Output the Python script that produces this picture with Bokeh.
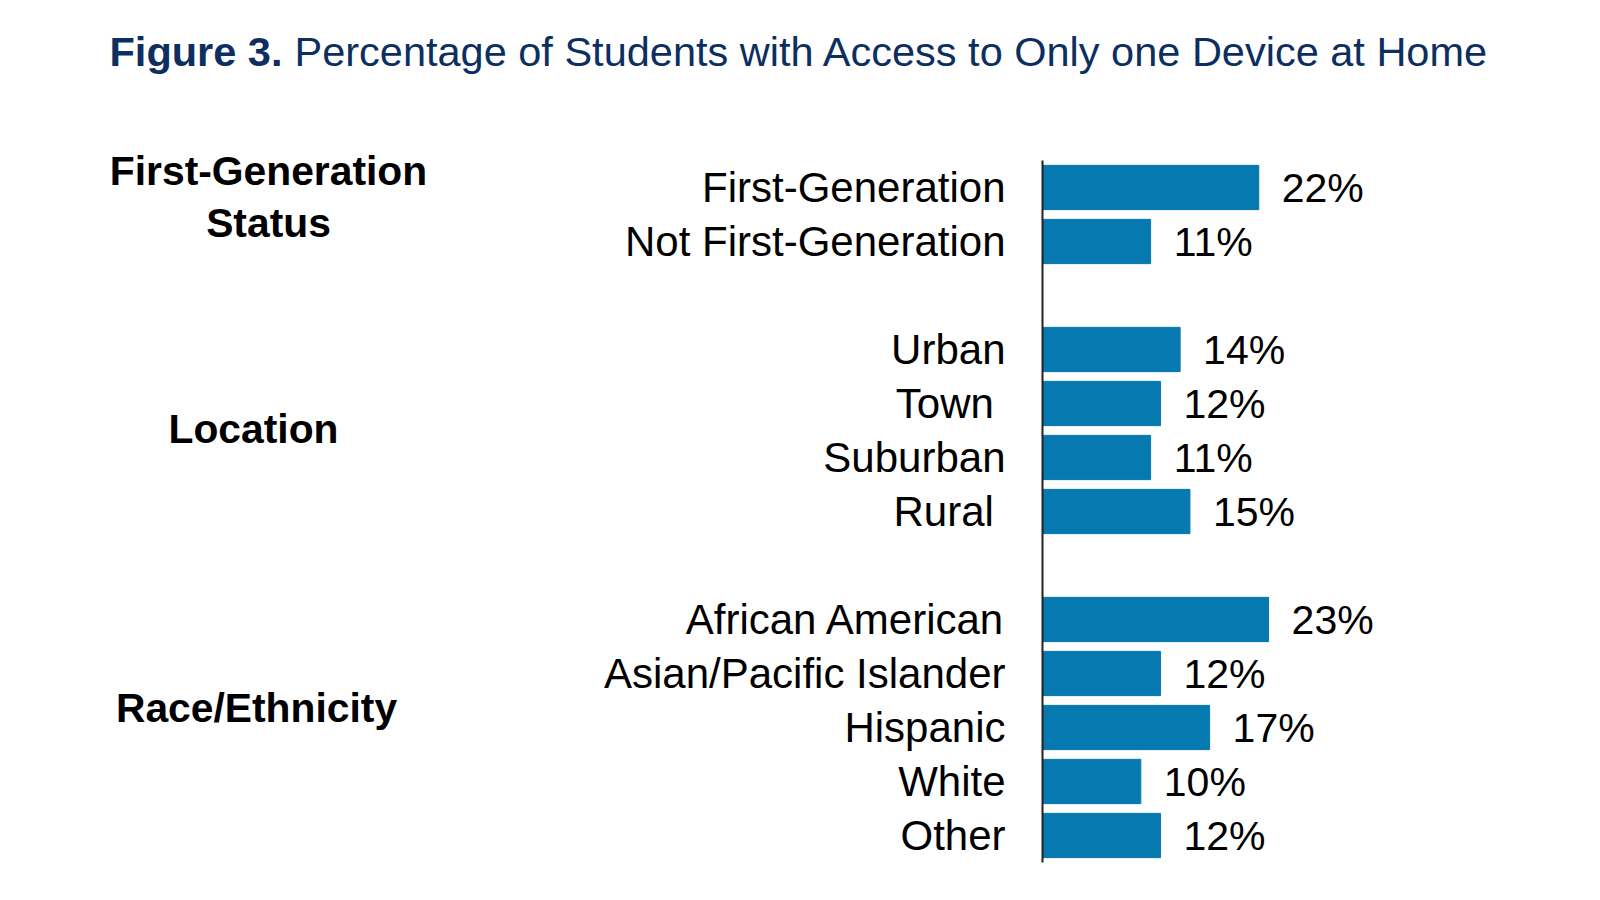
from bokeh.plotting import figure
from bokeh.models import Range1d, ColumnDataSource
from bokeh.core.properties import value
from bokeh.embed import file_html
from bokeh.resources import INLINE

# ---------------- data ----------------
group_names = ["First-Generation\nStatus", "Location", "Race/Ethnicity"]
categories = [
    "First-Generation", "Not First-Generation",
    "Urban", "Town\u00a0", "Suburban", "Rural\u00a0",
    "African American", "Asian/Pacific Islander", "Hispanic", "White", "Other",
]
category_group = [0, 0, 1, 1, 1, 1, 2, 2, 2, 2, 2]
values = [22, 11, 14, 12, 11, 15, 23, 12, 17, 10, 12]
title_bold = "Figure 3."
title_rest = "Percentage of Students with Access to Only one Device at Home"

# ---------------- layout / style ----------------
W, H = 1600, 900
AXIS_PX = 1042          # canvas x of the value axis (0 %)
FIRST_SLOT_PX = 187     # canvas y of the first bar centre
SLOT_PX = 54            # vertical pitch of one bar slot
PX_PER_PCT = 9.83
FONT = "Liberation Sans"
BAR_COLOR = "#0579B0"
TITLE_COLOR = "#0d2f5f"


def px_x(cx):
    return (cx - AXIS_PX) / PX_PER_PCT


def px_y(cy):
    return (cy - FIRST_SLOT_PX) / SLOT_PX


# slot positions: one empty slot between groups
positions = [i + g for i, g in enumerate(category_group)]
n_slots = positions[-1] + 1

src = ColumnDataSource(dict(
    y=positions,
    v=values,
    cat=categories,
    lab=[f"{v}%" for v in values],
))

p = figure(
    width=W, height=H,
    output_backend="svg", toolbar_location=None,
    x_range=Range1d(px_x(0), px_x(W)),
    y_range=Range1d(px_y(H), px_y(0)),
    min_border=0, min_border_left=0, min_border_right=0,
    min_border_top=0, min_border_bottom=0,
    background_fill_color="white", border_fill_color="white",
)
p.title.visible = False
p.outline_line_color = None
p.grid.visible = False
p.axis.visible = False

# bars
p.hbar(y="y", left=0, right="v", height=0.82, source=src,
       fill_color=BAR_COLOR, line_color=BAR_COLOR, line_width=1)

# value axis line
p.segment(x0=0, y0=-0.5, x1=0, y1=n_slots - 0.5,
          line_color="#222222", line_width=2)

# category labels
p.text(x=0, y="y", text="cat", source=src, x_offset=-37,
       text_align="right", text_baseline="middle",
       text_font=value(FONT), text_font_size="42px", text_color="black")

# value labels
p.text(x="v", y="y", text="lab", source=src, x_offset=23,
       text_align="left", text_baseline="middle",
       text_font=value(FONT), text_font_size="41px", text_color="black")

# title (bold lead-in + regular rest)
p.text(x=[px_x(109)], y=[px_y(51)], text=[title_bold],
       text_align="left", text_baseline="alphabetic",
       text_font=value(FONT), text_font_size="41.5px", text_font_style="bold",
       text_color=TITLE_COLOR)
p.text(x=[px_x(294)], y=[px_y(51)], text=[title_rest],
       text_align="left", text_baseline="alphabetic",
       text_font=value(FONT), text_font_size="41.5px",
       text_color=TITLE_COLOR)

# group labels
group_x_px = [268, 253, 256]
group_shift = [-0.32, -0.03, -0.37]
gx, gy = [], []
for g in range(len(group_names)):
    ys = [y for y, cg in zip(positions, category_group) if cg == g]
    gx.append(px_x(group_x_px[g]))
    gy.append(sum(ys) / len(ys) + group_shift[g])
p.text(x=gx, y=gy, text=group_names,
       text_align="center", text_baseline="middle",
       text_font=value(FONT), text_font_size="40.8px", text_font_style="bold",
       text_color="black", text_line_height=1.12)

open("out.html", "w").write(file_html(p, INLINE))
